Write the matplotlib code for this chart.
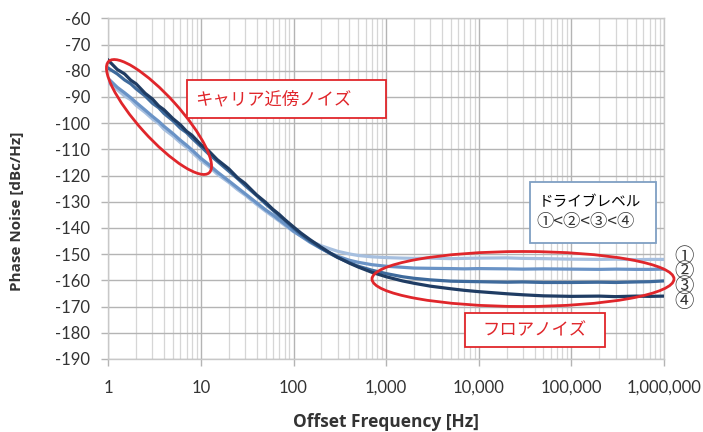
import matplotlib
matplotlib.use("Agg")
import matplotlib.pyplot as plt
from matplotlib.patches import Ellipse, Rectangle
from matplotlib.transforms import IdentityTransform
from matplotlib.ticker import LogLocator, FixedLocator, FuncFormatter

plt.rcParams["axes.unicode_minus"] = False

# Offset frequency points [Hz]
freq = [1, 1.25, 1.5, 1.75, 2, 2.5, 3, 3.5, 4, 5, 6, 7, 8, 10, 12, 15, 20, 25, 30,
        40, 50, 60, 70, 80, 100, 120, 150, 200, 250, 300, 400, 500, 700, 1000,
        1500, 2000, 3000, 5000, 7000, 10000, 20000, 30000, 50000, 100000,
        200000, 300000, 500000, 700000, 1000000]

# Phase noise [dBc/Hz] for drive levels 1..4
level1 = [-84.5, -87.2, -89.6, -91.1, -93.2, -95.9, -98.4, -100.1, -102.3, -104.9,
          -107.4, -109.2, -111.1, -114.2, -116.3, -119.4, -122.6, -125.4, -127.4,
          -131.0, -133.6, -135.6, -137.3, -138.9, -141.4, -143.0, -144.9, -146.8,
          -148.0, -148.9, -149.9, -150.5, -151.0, -151.3, -151.5, -151.6, -151.5,
          -151.7, -151.6, -151.5, -151.4, -151.6, -151.7, -151.9, -152.0, -151.9,
          -152.1, -152.0, -152.0]
level2 = [-83.0, -86.3, -88.4, -90.3, -92.1, -95.0, -97.4, -99.3, -101.2, -104.0,
          -106.5, -108.4, -110.2, -113.4, -115.6, -118.6, -122.0, -124.7, -126.9,
          -130.4, -133.1, -135.0, -136.9, -138.4, -141.2, -143.1, -145.4, -147.9,
          -149.6, -150.8, -152.3, -153.1, -154.0, -154.6, -155.0, -155.3, -155.4,
          -155.5, -155.6, -155.5, -155.6, -155.7, -155.6, -155.7, -155.8, -155.7,
          -155.8, -155.8, -155.7]
level3 = [-79.0, -81.2, -83.5, -85.0, -86.9, -89.6, -92.4, -94.1, -96.3, -99.1,
          -101.9, -103.6, -105.7, -108.9, -111.6, -114.5, -118.3, -121.2, -123.8,
          -127.6, -130.8, -133.2, -135.4, -137.0, -140.1, -142.4, -145.0, -147.8,
          -149.8, -151.3, -153.2, -154.6, -156.1, -157.4, -158.6, -159.2, -159.8,
          -160.3, -160.4, -160.5, -160.7, -160.6, -160.8, -160.8, -160.7, -160.8,
          -160.6, -160.5, -160.2]
level4 = [-76.0, -79.5, -81.2, -83.6, -85.0, -88.6, -90.8, -93.4, -94.9, -98.3,
          -100.6, -103.1, -104.6, -108.2, -110.4, -113.9, -117.4, -120.9, -123.0,
          -127.4, -130.2, -132.9, -134.8, -136.7, -139.6, -141.9, -144.4, -147.4,
          -149.6, -151.2, -153.4, -154.9, -156.9, -158.6, -160.2, -161.1, -162.2,
          -163.2, -163.8, -164.3, -165.1, -165.5, -165.9, -166.1, -166.0, -166.2,
          -166.0, -166.1, -166.0]

levels = [level1, level2, level3, level4]
colors = ["#a6bfdf", "#6a93c6", "#3e6a9c", "#1f3c63"]
markers = ["①", "②", "③", "④"]

yticks = list(range(-190, -59, 10))
xticks = [1, 10, 100, 1000, 10000, 100000, 1000000]

jp = ["Noto Sans CJK JP", "DejaVu Sans"]
red = "#e0262b"
H = 432

fig = plt.figure(figsize=(7.03, 4.32), dpi=100)
ax = fig.add_axes([0.154, 0.169, 0.7905, 0.7885])

for vals, c in zip(levels, colors):
    ax.plot(freq, vals, color=c, lw=2.3, solid_joinstyle="round", zorder=3)

ax.set_xscale("log")
ax.set_xlim(1, 1e6)
ax.set_ylim(-190, -60)
ax.xaxis.set_major_locator(FixedLocator(xticks))
ax.xaxis.set_minor_locator(LogLocator(base=10, subs=range(2, 10), numticks=20))
ax.xaxis.set_major_formatter(FuncFormatter(lambda v, p: f"{int(round(v)):,}"))
ax.xaxis.set_minor_formatter(FuncFormatter(lambda v, p: ""))
ax.set_yticks(yticks)

ax.grid(which="major", color="#b4b4b4", lw=1.0, zorder=0)
ax.grid(which="minor", axis="x", color="#d6d6d6", lw=0.9, zorder=0)
for s in ax.spines.values():
    s.set_color("#c8c8c8")
    s.set_linewidth(1.0)

ax.tick_params(axis="both", which="major", labelsize=12, colors="#b4b4b4",
               labelcolor="#333333", length=5, width=1.0)
ax.tick_params(axis="x", which="major", pad=10)
ax.tick_params(axis="y", which="major", pad=8)
ax.tick_params(axis="both", which="minor", length=0)
for lab in ax.get_xticklabels() + ax.get_yticklabels():
    lab.set_family("Lato")

fig.text(0.5495, 1 - 422 / H, "Offset Frequency [Hz]", ha="center", va="center",
         fontsize=12.5, fontweight="bold", family="Open Sans", color="#333333")
fig.text(0.024, 0.51, "Phase Noise [dBc/Hz]", ha="center", va="center",
         rotation=90, fontsize=11, fontweight="bold", family="Open Sans", color="#333333")

# Annotation ellipses (pixel coordinates from the top-left)
for cx, cy, w, h, ang in [(159, 117, 150, 42, -48), (523, 279, 302, 55, 0)]:
    fig.patches.append(Ellipse((cx, H - cy), w, h, angle=ang, fill=False, ec=red,
                               lw=2.0, transform=IdentityTransform(), zorder=5))


def box(x0, y0, x1, y1, ec):
    fig.patches.append(Rectangle((x0, H - y1), x1 - x0, y1 - y0, fc="white", ec=ec,
                                 lw=1.3, transform=IdentityTransform(), zorder=6))


def label(x, y, s, **kw):
    return fig.text(x / 703, 1 - y / H, s, va="center", family=jp, zorder=8, **kw)


box(187, 80, 386, 118, red)
label(273, 99, "キャリア近傍ノイズ", ha="center", fontsize=12.5, color=red)

box(465, 313, 605, 347, red)
label(535, 330, "フロアノイズ", ha="center", fontsize=12.5, color=red)

box(530, 182, 656, 243, "#7f9fc3")
label(539, 202, "ドライブレベル", ha="left", fontsize=10.5, color="black")
label(586, 222, "<".join(markers), ha="center", fontsize=12.5, color="#333333")

# Drive level markers at the right end of each curve, stacked in one text block
label(684, 279, "\n".join(markers), ha="center", fontsize=14,
      color="#333333", linespacing=0.64)

fig.savefig("out.png", dpi=100)
